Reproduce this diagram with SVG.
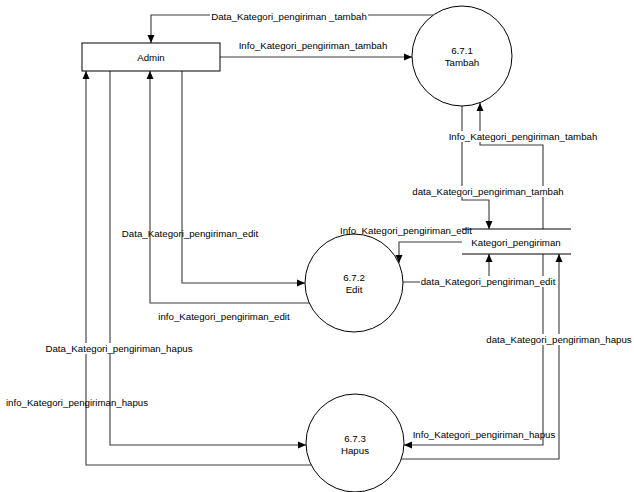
<svg xmlns="http://www.w3.org/2000/svg" width="634" height="492" viewBox="0 0 634 492">
<style>
text{font-family:"Liberation Sans",Arial,sans-serif;font-size:9.7px;fill:#000;text-anchor:middle;dominant-baseline:central}
.c{fill:none;stroke:#3a3a3a;stroke-width:1.1}
.n{fill:#fff;stroke:#000;stroke-width:1}
.bg{fill:#fff}
</style>
<defs>
<marker id="a" viewBox="0 0 8 8" refX="8" refY="4" markerWidth="8" markerHeight="8" markerUnits="userSpaceOnUse" orient="auto">
<path d="M0,0.5 L8,4 L0,7.5 Z" fill="#000"/>
</marker>
</defs>
<rect width="634" height="492" fill="#fff"/>
<g id="connectors">
<path class="c" marker-end="url(#a)" d="M433,15 H151 V43"/>
<path class="c" marker-end="url(#a)" d="M220,57 H412"/>
<path class="c" marker-end="url(#a)" d="M462,106 V200 H489 V229"/>
<path class="c" marker-end="url(#a)" d="M543,229 V145 H480 V103"/>
<path class="c" marker-end="url(#a)" d="M462,242 H399 V263"/>
<path class="c" marker-end="url(#a)" d="M403,282 H489 V254"/>
<path class="c" marker-end="url(#a)" d="M182,71 V283 H305"/>
<path class="c" marker-end="url(#a)" d="M309,303 H150 V71"/>
<path class="c" marker-end="url(#a)" d="M110,71 V445 H306"/>
<path class="c" marker-end="url(#a)" d="M311,465 H86 V71"/>
<path class="c" marker-end="url(#a)" d="M543,254 V445 H404"/>
<path class="c" marker-end="url(#a)" d="M401,459 H559 V254"/>
</g>
<g id="labels">
<rect class="bg" x="210" y="11" width="158" height="11"/>
<text x="289" y="16.5">Data_Kategori_pengiriman _tambah</text>
<text x="313" y="45">Info_Kategori_pengiriman_tambah</text>
<rect class="bg" x="449" y="131" width="148" height="11"/>
<text x="523" y="136.5">Info_Kategori_pengiriman_tambah</text>
<rect class="bg" x="412" y="186" width="152" height="11"/>
<text x="488" y="191.5">data_Kategori_pengiriman_tambah</text>
<text x="190" y="233">Data_Kategori_pengiriman_edit</text>
<text x="406" y="230">Info_Kategori_pengiriman_edit</text>
<rect class="bg" x="420" y="276" width="136" height="11"/>
<text x="488" y="281.5">data_Kategori_pengiriman_edit</text>
<text x="224" y="316">info_Kategori_pengiriman_edit</text>
<rect class="bg" x="46" y="343" width="147" height="11"/>
<text x="119" y="348">Data_Kategori_pengiriman_hapus</text>
<text x="77" y="402">info_Kategori_pengiriman_hapus</text>
<rect class="bg" x="487" y="334" width="145" height="11"/>
<text x="559" y="339.5">data_Kategori_pengiriman_hapus</text>
<text x="484" y="434">Info_Kategori_pengiriman_hapus</text>
</g>
<g id="admin">
<rect class="n" x="82" y="43" width="138" height="28"/>
<text x="151" y="57">Admin</text>
</g>
<g id="tambah">
<circle class="n" cx="462" cy="56" r="50"/>
<text x="462" y="50">6.7.1</text>
<text x="462" y="62">Tambah</text>
</g>
<g id="edit">
<circle class="n" cx="354" cy="283" r="49"/>
<text x="354" y="277">6.7.2</text>
<text x="354" y="289">Edit</text>
</g>
<g id="hapus">
<circle class="n" cx="355" cy="443" r="49"/>
<text x="355" y="438">6.7.3</text>
<text x="355" y="450.5">Hapus</text>
</g>
<g id="kategori_pengiriman">
<line x1="462" y1="229" x2="571" y2="229" stroke="#000" stroke-width="1"/>
<line x1="462" y1="254" x2="571" y2="254" stroke="#000" stroke-width="1"/>
<text x="516" y="242">Kategori_pengiriman</text>
</g>
</svg>
